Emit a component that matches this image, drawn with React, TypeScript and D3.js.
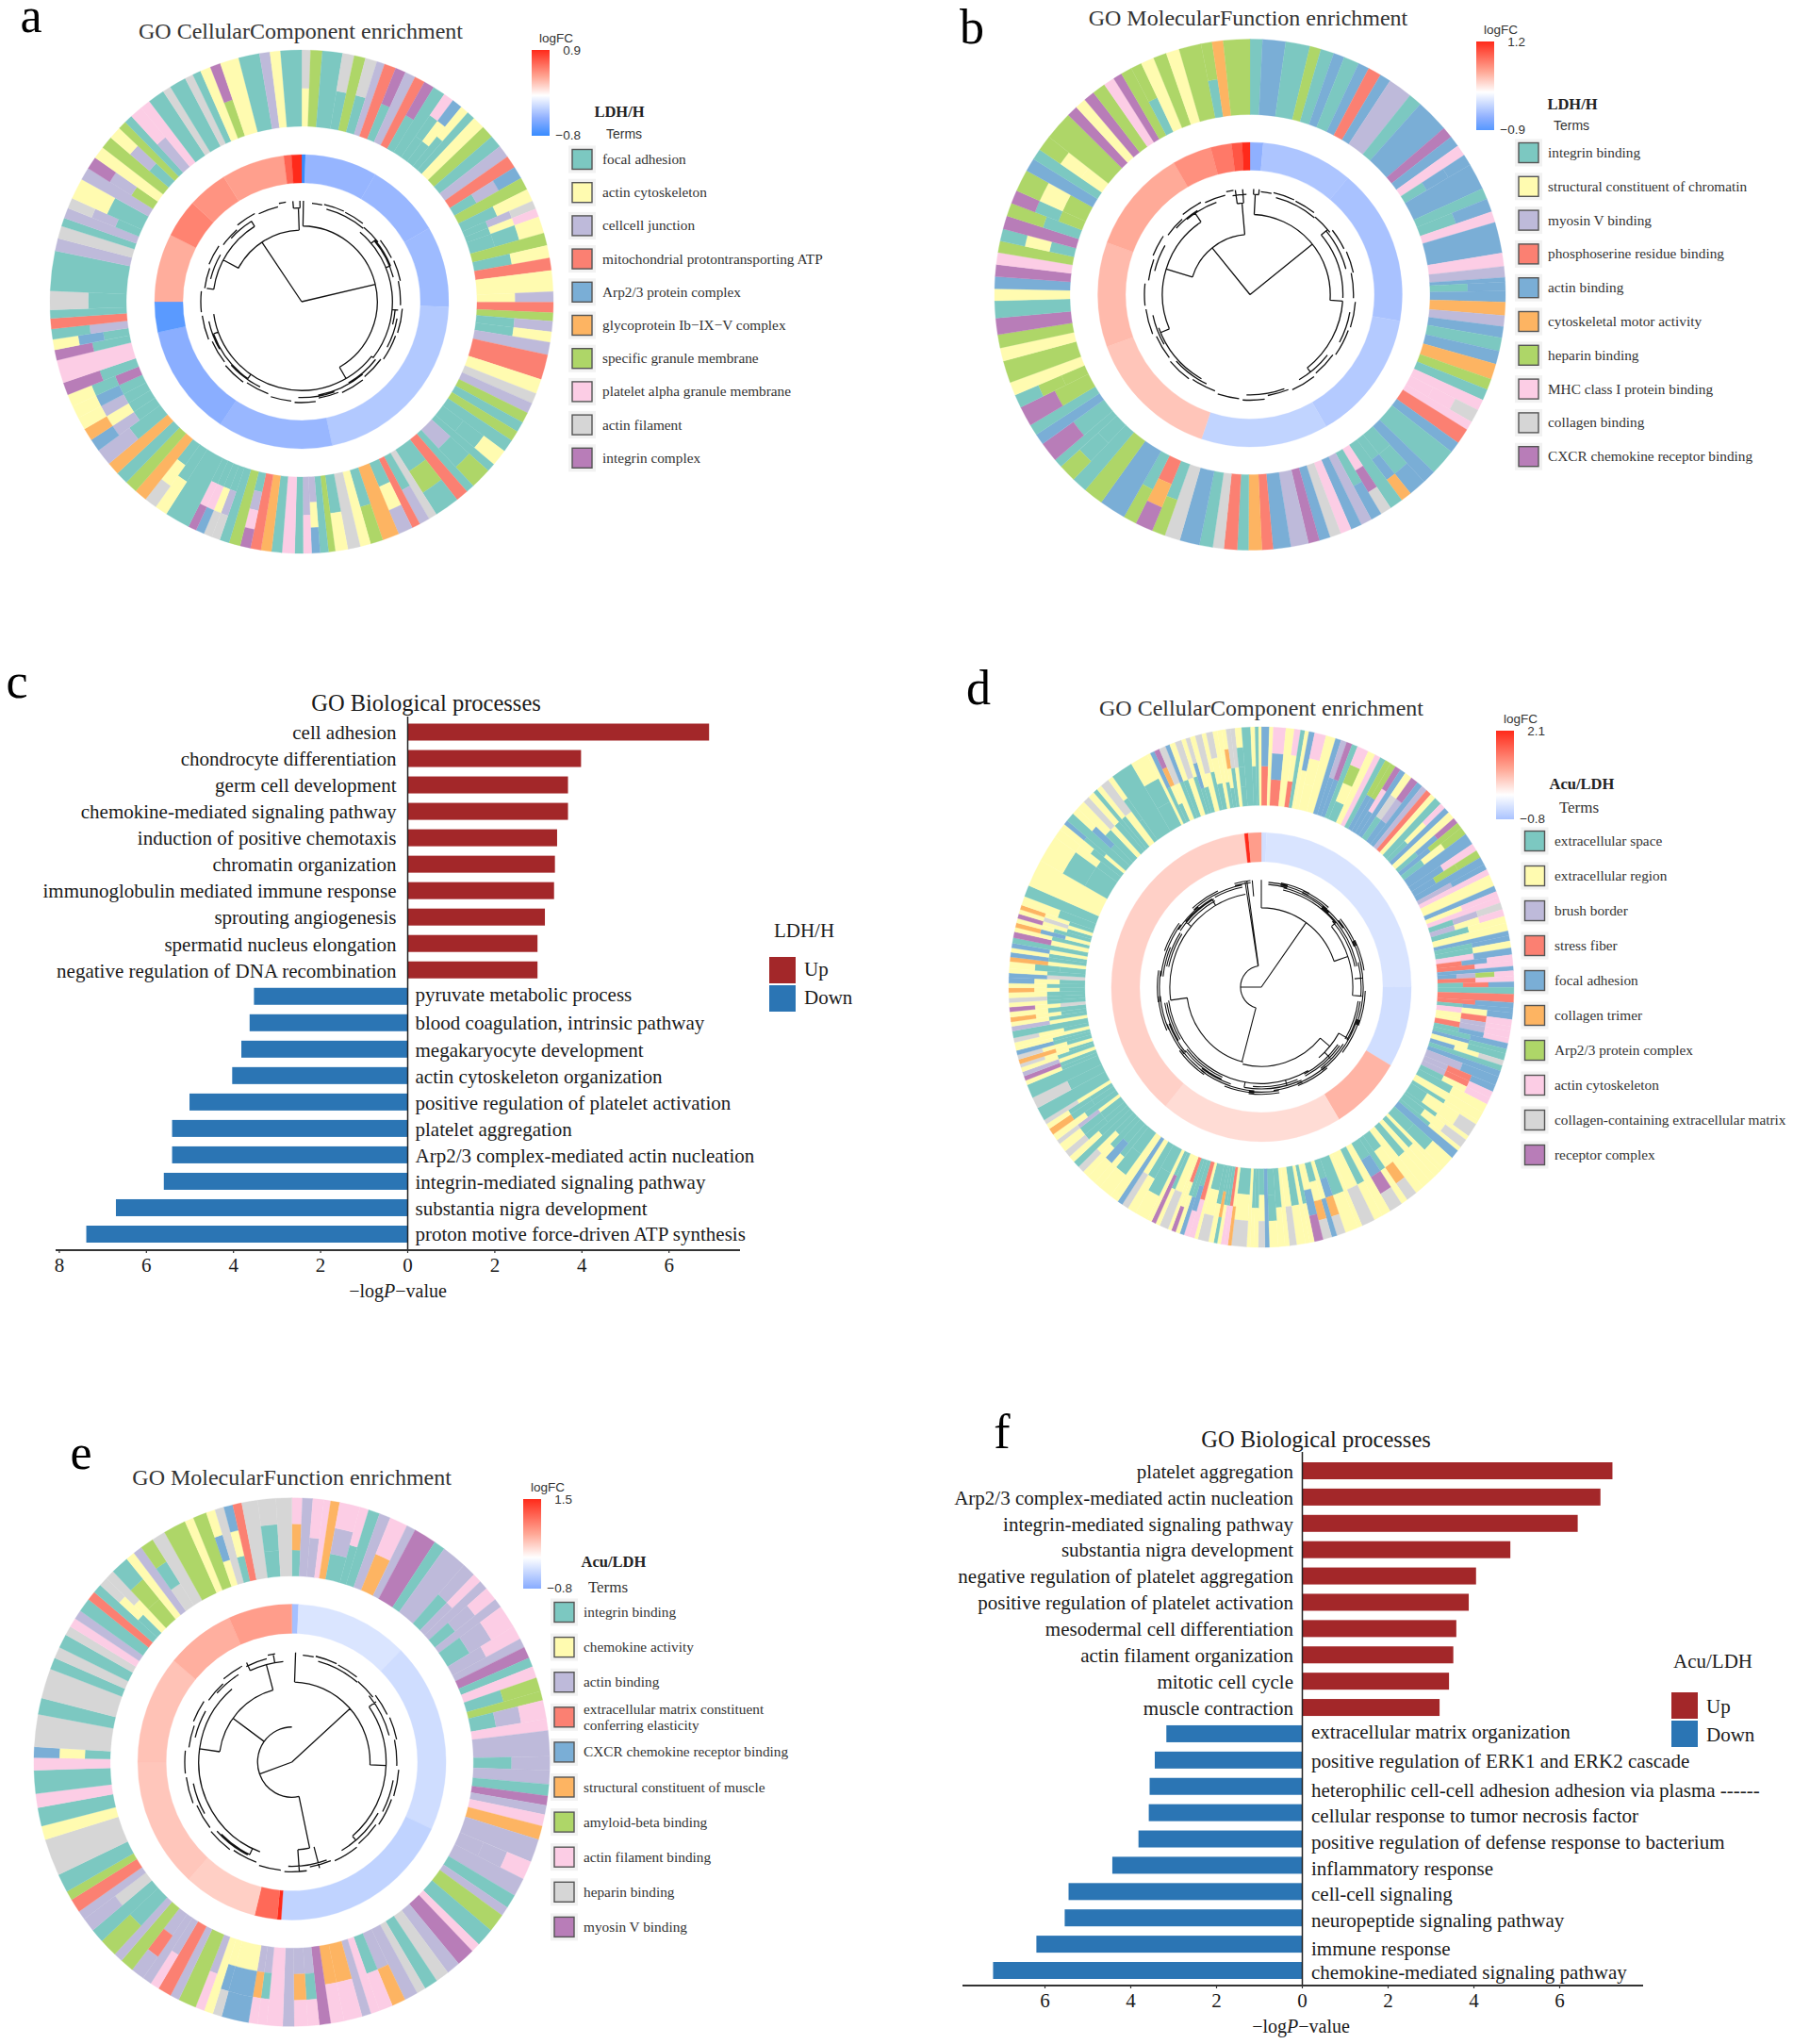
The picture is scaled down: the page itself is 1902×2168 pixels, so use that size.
import React from 'react';
import * as d3 from 'd3';

const SERIF = '"Liberation Serif", "Times New Roman", serif';
const SANS = '"Liberation Sans", Arial, sans-serif';

// term colours, a..j in the ring strings below
const termColors = ['#7cc8c1', '#fffbb0', '#bebada', '#fb8072', '#7aaed6', '#fdb462', '#aed668', '#fccde5', '#d6d6d6', '#b87db8'];

// outer rings: clockwise from 12 o'clock, "<terms inner to outer><width in degrees>"
const ringA = `bi2.1 g2.8 a4.8 ai2.8 g2.7 ai2.8 c1.9 d2.8 aj2.5 c2.5 d2.5 aj2.5 a3 aah2.5 abe2.5 ab2 a2 b3 g3 a3 c3 d3 ace3 g3 ab3 aci2 abh2 aab4 g3 ab3 d3 b5 bc2.5 d2.5 g2 ac2.5 ab2.5 c3 d6 b3.5 i2.5 c2.5 g2.5 a2.5 g2.5 a3 aab4 a2 cag5 a2 d3 aga6 i2 ac2.5 d2 abc3.5 f4 ag3 b2.5 i3 ab3 g1.6 a2 cbe2 ch2
a2 h3 a2.5 f2.5 d2.5 achj2.5 g2.7 a2.3 aci2 abi2 ahe2 ahj2 a6 ab3 abi3 f3 g3 a3 f3 ac4 ace3 abf3 acb3 aeb3 jab3 aj3 h5.5 aj2.5 aeb2.5 ca2.5 d2.5 a2 ai4.5 a9.5 c3 i3 a2 c2.5 aci2.5 ab5 c3 gcj3 b3 g3 acb3 g2 a2 ch3 h2.5 a4 i2 a4 i2 a2 b2.5 gj2.5 b4.5 a5 c2.5 b2.5 a5`;

const ringB = `a2.8 e5.2 a5.5 g2.5 a3 e2.5 a3.5 e2.5 d3 e2.5 c5.5 a3 e7.5 j2.5 e2.5 h2.5 aee2.5 e6 a2.5 ae3 h2.5 e7 h3 c2.5 e1 ae2 e2.5 f3 c2.5 e2.5 a3 e3 f3.5 g2.5 a2.5 h2.5 hhi3 h2 d3.5 e2.5 a6 e3 aae4 aef2.5 a3 hji2.5 ae2.5 c2.5 e2.5 h2.5 i2.5 e2.5 j2.5 c4 e4 d2.5 f3 a2.5 d3 i2.5 a3 e4.5
i3.5 ag3 dfj4 ag3 e6 g4.5 a3.5 aag4 a2 aj4.5 e2.5 a2.5 gj4.5 gga3 b3 g5 b3 g3 j3.7 a3.9 b2.7 e2.7 j2.7 h2.7 g2.6 aba2.8 j3 ag3 gaj3 gbg5 e3 a2.5 bbg3.5 g6.5 j2.5 b2.5 j2.5 g3 h2.5 j2 g2.5 ag2.5 b3 g3 b3 g5 ag2.5 f2.5 g6`;

const ringD = `de1.8 b.9 deh2.8 b1.9 dbh1.4 a1 b.9 be1.3 bbh2.6 b2.2 e1.3 ec1.3 ej1.3 a1.3 abgh2.6 b1.7 h1.3 a1.3 eg1.3 eg1.3 ehj1.3 e1.3 aib1.7 ecj1.7 e1.3 c1.3 d1.3 b1.3 a1.7 abh1.3 e1.3 b1.7 aej1.3 eg1.3 abg1.7 e2.6 eh1.7 egg1.7 e1.7 ce1.3 h1.3 b2.6 e1.3 bh1.3 h1.3 aci1.5 cbh1.5 ab1.5 b1.8 e1 ae1.2 ab1.5 he1.5 deh1.3 dh1.2 e1 ecgh1.2 dh1.2 ade1.2
a1.5 d1.8 de1.2 aee1 hbe1.5 bdh1.5 bch1 dch1.5 aeh1.2 ae1.3 ea1 ba1.5 ebi1.2 a1.2 e1.3 ce2 cde1.5 cdh1.5 abh1.5
ab2 b2 ab1 abbi3 ab1 abi2 ab1 e2 aab3 b1 ab1.5 b1.5 ab2 b2 abfi2.5 ab1.5 aeji3 b2 ab2 bi3 b1 ab3 aefi2 be1.2 abfi2 bej2 ab1 b1 ab2 bi1.6 b1 ab1.5 aab2 e1 abi1.5 ab1
ab.8 b.8 abi3.4 bf.8 dh.8 ah.8 ab.8 afa.8 ab1.2 abi2.4 b.8 dh1.2 aeh1.2 ae1 ab1 dbj1 b.8 bi2 ab1 ajj1 b1 aab3 ab2 bi1.5 e1.2
b2 aab3 ab1.5 aeb2 ab1.5 abi1.5 a1.5 ab1.5 aai1.5 aab2 bci1 ab1.5 aaf1.5 aab1.2 bi1 a3 ai2.5 a3 ab1 aj1 bc1 ab1 abi.8 bf1 abi1 ae1 ab.8
b1 abi1 a1.5 bc1 ab1 abf1 ab1.2 ibj1 ab1 ai1 ab1.2 abf1 ab1 abe1.2
ie1 ab1 aab1.5 bf1 ae1 ab1 be1 a1.2 bj1.3 ab1 bef1 ab1 abj1 bib1 abf1 ab2 a2.5 b6 aab6 abb2 ab1.5 bae1 a2 aeb1.5 ab2 bi1.5 ab1.5 a1 ab1.2 bi2 aab1.2 a5 aab4 b.8 ae1 abfj1.2 bi1.5 ae1 ab1.3 bi1.5 ab1 aei1 abb1.2 bi1.5 ab1 abi1.5 b1 abb1 abfb1 ai1 bi1 aaab1.5 a2 ab1 a.8 b.6`;

const ringE = `afh2.3 c2.3 ch2.4 h1.5 f2 ach4.5 ah2 a2.5 c2.5 fh4 c2 j5 a2.5 c5.5 ac3 ch2 c2 ach3 c2 ach5 ch3 c2 j2.5 a2 h2.5 ag3 g2 ach4 h2.5 c5.5 ac3 c3 a2.5 j2 c2 h2.5 f3 c5 cch4 c4 a3 c2 g4 a4 h2 j4 c3 i3 a3 i2 c3 cf3 ah3 h2 c2 fh4 fh3 j2.5 cah2.5 cfh3 c2.5 h3.5 cah2 cfh2 bee6 bei2 b2 ch2 g4 c2 d3 ch2 c2 cdc3 g3 c2 ag4 a3 ic3 c2 d3 g2 a4 i8 b3 a4 h3 a5 h2.7 abe2.3 i7 a3.5 i6.5 a2.5 i2.5 a3 i2 h2 c2 a3 d2 a2 abi2 bi2 gga4 b2 c2 iag3 i3 g5 b2 g3 beb2 i2 abe2 d2 i3.5 aai4 i3.5`;

// inner rings: same direction, one width per value (logFC)
const midWidthsA = [1.5, 28.5, 30, 32, 76, 45.5, 44.5, 12, 27, 15, 16, 25, 3, 4];
const midValuesA = [-0.8, -0.42, -0.41, -0.39, -0.31, -0.41, -0.47, -0.66, 0.34, 0.52, 0.45, 0.4, 0.65, 0.9];

const midWidthsB = [5, 35, 60, 50, 48.6, 51.4, 40, 40, 15, 8, 4, 3];
const midValuesB = [-0.6, -0.44, -0.46, -0.4, -0.33, 0.32, 0.38, 0.47, 0.62, 0.75, 0.95, 1.2];

const midWidthsD = [2, 88, 30.6, 28.4, 71, 134, 1.5, 5];
const midValuesD = [-0.42, -0.36, -0.44, 0.72, 0.34, 0.45, 2.1, 0.95];

const midWidthsE = [2.5, 42.5, 70, 69, 1.5, 8.5, 28, 48, 40, 26, 24];
const midValuesE = [-0.6, -0.25, -0.32, -0.42, 1.5, 1.05, 0.33, 0.39, 0.42, 0.55, 0.68];

// dendrogram branches: [from deg, to deg, radius fraction] and [deg, from radius, to radius]
const arcsA = [[1, 150, 0.75], [128, 262, 0.88], [40, 128, 0.9], [298, 358, 0.71], [278, 328, 0.88], [355, 359, 0.93], [50, 68, 0.95], [95, 104, 0.93], [140, 170, 0.94], [215, 250, 0.93]];
const stemsA = [[326.3, 0, 0.71], [76.7, 0, 0.75], [1, 0.75, 1], [150, 0.75, 0.88], [128, 0.88, 0.9], [358, 0.71, 0.93], [355, 0.93, 1], [359, 0.93, 1], [298, 0.71, 0.88], [68, 0.9, 0.95], [50, 0.9, 0.95], [95, 0.9, 0.96], [215, 0.88, 0.93], [250, 0.88, 0.93], [328, 0.88, 0.94], [278, 0.88, 0.95]];

const arcsB = [[3, 94, 0.76], [50, 92, 0.88], [94, 142, 0.88], [287, 355, 0.57], [247, 326, 0.83], [352, 356, 0.87], [210, 250, 0.92], [320, 340, 0.93], [130, 145, 0.93], [2, 5, 0.95], [358, 350, 0.95]];
const stemsB = [[321, 0, 0.57], [51, 0, 0.76], [3, 0.76, 0.95], [2, 0.95, 1], [5, 0.95, 1], [94, 0.76, 0.88], [355, 0.57, 0.87], [352, 0.87, 1], [356, 0.87, 1], [287, 0.57, 0.83], [247, 0.83, 0.92], [326, 0.83, 0.93], [50, 0.88, 0.96], [142, 0.88, 0.93]];

const arcsD = [[0, 71, 0.74], [50, 95, 0.88], [130, 194, 0.74], [194, 262, 0.72], [262, 350, 0.88], [150, 262, 0.9], [270, 352, 0.2], [195, 270, 0.2], [310, 330, 0.95], [165, 190, 0.95], [32, 50, 0.93], [120, 140, 0.86]];
const stemsD = [[35.6, 0, 0.74], [270, 0, 0.2], [352, 0.2, 1], [351, 0.2, 1], [355, 0.85, 1], [0, 0.74, 1], [195, 0.2, 0.72], [262, 0.72, 0.88], [71, 0.74, 0.88], [130, 0.74, 0.86], [120, 0.86, 0.96], [135, 0.86, 0.94], [50, 0.88, 0.93], [310, 0.88, 0.95], [330, 0.88, 0.95], [165, 0.9, 0.95], [190, 0.9, 0.95], [95, 0.88, 0.97], [85, 0.9, 0.98]];

const arcsE = [[2, 92, 0.73], [55, 92, 0.88], [92, 140, 0.88], [278, 345, 0.68], [200, 278, 0.87], [278, 320, 0.87], [250, 360, 0.32], [168, 250, 0.32], [335, 355, 0.92], [176, 168, 0.8], [120, 145, 0.93], [205, 225, 0.93]];
const stemsE = [[250, 0, 0.32], [48, 0, 0.73], [2, 0.73, 1], [306, 0.32, 0.68], [168, 0.32, 0.8], [176, 0.8, 1], [165, 0.8, 1], [92, 0.73, 0.88], [278, 0.68, 0.87], [345, 0.68, 0.92], [55, 0.88, 0.96], [140, 0.88, 0.93], [335, 0.92, 1], [350, 0.92, 1], [205, 0.87, 0.93]];

// broken outer fringe of leaves, shared shape
const fringeArcs = [[6, 12, 0.98], [13, 25, 0.99], [15, 40, 0.95], [26, 38, 0.985], [40, 52, 0.96], [52, 64, 0.99], [50, 75, 0.94], [66, 78, 1], [78, 92, 0.98], [94, 108, 1], [100, 118, 0.96], [110, 125, 0.99], [126, 140, 0.97], [128, 150, 0.93], [142, 156, 0.985], [158, 170, 0.97], [172, 184, 1], [160, 182, 0.95], [186, 198, 0.99], [200, 214, 0.97], [206, 228, 0.94], [216, 230, 0.985], [232, 246, 0.97], [248, 262, 0.995], [240, 258, 0.94], [264, 276, 1], [278, 290, 0.97], [284, 300, 0.93], [292, 304, 0.99], [306, 318, 0.96], [320, 332, 0.99], [312, 328, 0.94], [334, 346, 0.97], [347, 351, 1]];

const termsA = ['focal adhesion', 'actin cytoskeleton', 'cellcell junction', 'mitochondrial protontransporting ATP', 'Arp2/3 protein complex', 'glycoprotein Ib−IX−V complex', 'specific granule membrane', 'platelet alpha granule membrane', 'actin filament', 'integrin complex'];
const termsB = ['integrin binding', 'structural constituent of chromatin', 'myosin V binding', 'phosphoserine residue binding', 'actin binding', 'cytoskeletal motor activity', 'heparin binding', 'MHC class I protein binding', 'collagen binding', 'CXCR chemokine receptor binding'];
const termsD = ['extracellular space', 'extracellular region', 'brush border', 'stress fiber', 'focal adhesion', 'collagen trimer', 'Arp2/3 protein complex', 'actin cytoskeleton', 'collagen-containing extracellular matrix', 'receptor complex'];
const termsE = ['integrin binding', 'chemokine activity', 'actin binding', 'extracellular matrix constituent|conferring elasticity', 'CXCR chemokine receptor binding', 'structural constituent of muscle', 'amyloid-beta binding', 'actin filament binding', 'heparin binding', 'myosin V binding'];

const upTermsC = ['cell adhesion', 'chondrocyte differentiation', 'germ cell development', 'chemokine-mediated signaling pathway', 'induction of positive chemotaxis', 'chromatin organization', 'immunoglobulin mediated immune response', 'sprouting angiogenesis', 'spermatid nucleus elongation', 'negative regulation of DNA recombination'];
const upValuesC = [6.92, 3.98, 3.68, 3.68, 3.43, 3.38, 3.36, 3.15, 2.98, 2.98];
const downTermsC = ['pyruvate metabolic process', 'blood coagulation, intrinsic pathway', 'megakaryocyte development', 'actin cytoskeleton organization', 'positive regulation of platelet activation', 'platelet aggregation', 'Arp2/3 complex-mediated actin nucleation', 'integrin-mediated signaling pathway', 'substantia nigra development', 'proton motive force-driven ATP synthesis'];
const downValuesC = [3.53, 3.63, 3.82, 4.03, 5.01, 5.41, 5.41, 5.6, 6.7, 7.38];

const upTermsF = ['platelet aggregation', 'Arp2/3 complex-mediated actin nucleation', 'integrin-mediated signaling pathway', 'substantia nigra development', 'negative regulation of platelet aggregation', 'positive regulation of platelet activation', 'mesodermal cell differentiation', 'actin filament organization', 'mitotic cell cycle', 'muscle contraction'];
const upValuesF = [7.23, 6.95, 6.42, 4.85, 4.05, 3.88, 3.59, 3.52, 3.42, 3.2];
const downTermsF = ['extracellular matrix organization', 'positive regulation of ERK1 and ERK2 cascade', 'heterophilic cell-cell adhesion adhesion via plasma ------', 'cellular response to tumor necrosis factor', 'positive regulation of defense response to bacterium', 'inflammatory response', 'cell-cell signaling', 'neuropeptide signaling pathway', 'immune response', 'chemokine-mediated signaling pathway'];
const downValuesF = [3.17, 3.44, 3.56, 3.58, 3.82, 4.43, 5.45, 5.54, 6.2, 7.21];

const ticksC = [-8, -6, -4, -2, 0, 2, 4, 6];
const ticksF = [-6, -4, -2, 0, 2, 4, 6];

const panelLetters = [['a', 33, 34], ['b', 1031, 46], ['c', 18, 740], ['d', 1038, 747], ['e', 86, 1558], ['f', 1063, 1536]];

const arcGen = d3.arc<any>();
const deg = (d: number) => (d * Math.PI) / 180;

// reference's ramp: periwinkle blues, white, salmon reds
const fcScale = (M: number) =>
  d3.scaleLinear<string>()
    .domain([-M, -0.5 * M, 0, 0.4 * M, M])
    .range(['#1e80ff', '#8fb0ff', '#ffffff', '#ffa896', '#ff2a1a']);

function parseRing(str: string) {
  const cells = str.trim().split(/\s+/).map(tok => {
    const m = tok.match(/^([a-j]+)([\d.]+)$/)!;
    return { terms: m[1].split('').map(c => c.charCodeAt(0) - 97), width: +m[2] };
  });
  const total = d3.sum(cells, c => c.width);
  const angle = d3.scaleLinear().domain([0, total]).range([0, 2 * Math.PI]);
  let acc = 0;
  return cells.map(c => {
    const out = { terms: c.terms, a0: angle(acc), a1: angle(acc + c.width) };
    acc += c.width;
    return out;
  });
}

function branchPath(arcs: number[][], stems: number[][], fringe: number[][], R: number) {
  const p = d3.path();
  arcs.concat(fringe).forEach(([a, b, r]) => {
    const rr = r * R;
    const [from, to] = [deg(Math.min(a, b)) - Math.PI / 2, deg(Math.max(a, b)) - Math.PI / 2];
    p.moveTo(rr * Math.cos(from), rr * Math.sin(from));
    p.arc(0, 0, rr, from, to);
  });
  stems.forEach(([a, r0, r1]) => {
    const [x0, y0] = d3.pointRadial(deg(a), r0 * R);
    const [x1, y1] = d3.pointRadial(deg(a), r1 * R);
    p.moveTo(x0, y0);
    p.lineTo(x1, y1);
  });
  return p.toString();
}

function Ring({ cfg }: { cfg: any }) {
  const cells = parseRing(cfg.ring);
  const midTotal = d3.sum(cfg.midWidths as number[]);
  const midAngle = d3.scaleLinear().domain([0, midTotal]).range([0, 2 * Math.PI]);
  const color = fcScale(Math.max(cfg.max, -cfg.min));
  let acc = 0;
  // panel d has many more leaves, so its fringe is drawn doubled and longer
  const fringe = cfg.dense
    ? [0, -0.02].flatMap(d => fringeArcs.map(([a, b, r]) => [a - 2, b + 3, Math.min(1, r + d)]))
    : fringeArcs;
  return (
    <g transform={`translate(${cfg.cx},${cfg.cy}) scale(${cfg.sx},${cfg.sy})`}>
      {cells.flatMap((c, i) => {
        const band = d3.scaleLinear().domain([0, c.terms.length]).range([cfg.rOuterIn, cfg.rOuter]);
        return c.terms.map((t, j) => {
          const col = termColors[t];
          return (
            <path key={`${i}-${j}`} fill={col} stroke={col} strokeWidth={0.3}
              d={arcGen({ innerRadius: band(j), outerRadius: band(j + 1), startAngle: c.a0, endAngle: c.a1 }) as string} />
          );
        });
      })}
      {(cfg.midValues as number[]).map((v, i) => {
        const a0 = midAngle(acc);
        acc += cfg.midWidths[i];
        const col = color(v);
        return (
          <path key={`m${i}`} fill={col} stroke={col} strokeWidth={0.3}
            d={arcGen({ innerRadius: cfg.rMidIn, outerRadius: cfg.rMid, startAngle: a0, endAngle: midAngle(acc) }) as string} />
        );
      })}
      <path d={branchPath(cfg.arcs, cfg.stems, fringe, cfg.rTree)} fill="none" stroke="#111" strokeWidth={cfg.dense ? 1.1 : 1.3} />
    </g>
  );
}

function RingLegend({ cfg }: { cfg: any }) {
  const l = cfg.legend;
  const M = Math.max(cfg.max, -cfg.min);
  const color = fcScale(M);
  const gradId = `grad-${cfg.id}`;
  const stops = [cfg.max, 0.4 * M, 0, -0.5 * M, cfg.min].filter(s => s <= cfg.max && s >= cfg.min);
  const off = d3.scaleLinear().domain([cfg.max, cfg.min]).range([0, 100]);
  return (
    <g>
      <defs>
        <linearGradient id={gradId} x1="0" y1="0" x2="0" y2="1">
          {stops.map(s => <stop key={s} offset={`${off(s)}%`} stopColor={color(s)} />)}
        </linearGradient>
      </defs>
      <rect x={l.barX} y={l.barY0} width={19} height={l.barY1 - l.barY0} fill={`url(#${gradId})`} />
      <text x={l.barX + 26} y={l.barY0 - 12} textAnchor="middle" fontFamily={SANS} fontSize={13.5} fill="#333" dominantBaseline="middle">logFC</text>
      <text x={l.barX + 52} y={l.barY0 + 1} textAnchor="end" fontFamily={SANS} fontSize={13.5} fill="#333" dominantBaseline="middle">{cfg.max}</text>
      <text x={l.barX + 52} y={l.barY1} textAnchor="end" fontFamily={SANS} fontSize={13.5} fill="#333" dominantBaseline="middle">{'−' + -cfg.min}</text>
      <text x={l.groupX} y={l.groupY + 1} textAnchor="middle" fontFamily={SERIF} fontWeight="bold" fontSize={16.5} fill="#222" dominantBaseline="middle">{cfg.group}</text>
      <text x={l.termsX} y={l.termsY + 1} textAnchor="middle" fontFamily={l.termsFont} fontSize={l.termsSize} fill="#333" dominantBaseline="middle">Terms</text>
      {(cfg.terms as string[]).map((t, i) => {
        const y = l.y0 + i * l.step;
        const lines = t.split('|');
        return (
          <g key={t}>
            <rect x={l.swX - 14.5} y={y - 14.5} width={29} height={29} fill="#f2f2f2" />
            <rect x={l.swX - 10.5} y={y - 10.5} width={21} height={21} fill={termColors[i]} stroke="#555" strokeWidth={1.4} />
            {lines.map((s, k) => (
              <text key={s} x={l.textX} y={y + 1.5 + (k - (lines.length - 1) / 2) * 17} fontFamily={SERIF} fontSize={l.fs} fill="#333" dominantBaseline="middle">{s}</text>
            ))}
          </g>
        );
      })}
    </g>
  );
}

function Bars({ cfg }: { cfg: any }) {
  const x = d3.scaleLinear().domain([0, 1]).range([cfg.x0, cfg.x0 + cfg.unit]);
  const all = [...cfg.upTerms, ...cfg.downTerms];
  const y = d3.scalePoint<string>().domain(all).range([cfg.y0, cfg.y1]);
  return (
    <g fontFamily={SERIF} fill="#1a1a1a">
      <text x={cfg.titleX} y={cfg.titleY + 3} textAnchor="middle" fontSize={24.5} dominantBaseline="middle">GO Biological processes</text>
      {(cfg.upTerms as string[]).map((t, i) => (
        <g key={t}>
          <rect x={x(0)} y={y(t)! - 9} width={x(cfg.upValues[i]) - x(0)} height={18} fill="#a32729" />
          <text x={x(0) - cfg.upGap} y={y(t)! + 3} textAnchor="end" fontSize={cfg.fs} dominantBaseline="middle">{t}</text>
        </g>
      ))}
      {(cfg.downTerms as string[]).map((t, i) => (
        <g key={t}>
          <rect x={x(-cfg.downValues[i])} y={y(t)! - 9} width={x(0) - x(-cfg.downValues[i])} height={18} fill="#2b75b4" />
          <text x={x(0) + cfg.downGap} y={y(t)! + cfg.downNudges[i]} fontSize={cfg.fs} dominantBaseline="middle">{t}</text>
        </g>
      ))}
      <line x1={x(0)} x2={x(0)} y1={cfg.zeroTop} y2={cfg.axisY} stroke="#222" strokeWidth={1.5} />
      <line x1={cfg.axisX0} x2={cfg.axisX1} y1={cfg.axisY} y2={cfg.axisY} stroke="#333" strokeWidth={2} />
      {(cfg.ticks as number[]).map(t => (
        <g key={t}>
          <line x1={x(t)} x2={x(t)} y1={cfg.axisY} y2={cfg.axisY + 3} stroke="#333" strokeWidth={1.2} />
          <text x={x(t)} y={cfg.axisY + 18} textAnchor="middle" fontSize={21} dominantBaseline="middle">{Math.abs(t)}</text>
        </g>
      ))}
      <text x={cfg.labelX} y={cfg.axisY + 45} textAnchor="middle" fontSize={20} dominantBaseline="middle">
        −log<tspan fontStyle="italic">P</tspan>−value
      </text>
      <text x={cfg.legTitleX} y={cfg.legTitleY} textAnchor="middle" fontSize={21} dominantBaseline="middle">{cfg.group}</text>
      <rect x={cfg.legX} y={cfg.legY} width={28} height={28} fill="#a32729" />
      <rect x={cfg.legX} y={cfg.legY + 30} width={28} height={28} fill="#2b75b4" />
      <text x={cfg.legX + 37} y={cfg.legY + cfg.legNudge + 14} fontSize={21} dominantBaseline="middle">Up</text>
      <text x={cfg.legX + 37} y={cfg.legY + cfg.legNudge + 44} fontSize={21} dominantBaseline="middle">Down</text>
    </g>
  );
}

const ringPanels = [
  {
    id: 'a', title: 'GO CellularComponent enrichment', titleX: 319, titleY: 32, ring: ringA, midWidths: midWidthsA, midValues: midValuesA,
    arcs: arcsA, stems: stemsA, cx: 320, cy: 320, sx: 1, sy: 1, rOuter: 267, rOuterIn: 186, rMid: 156, rMidIn: 126, rTree: 107, min: -0.8, max: 0.9,
    group: 'LDH/H', terms: termsA,
    legend: { barX: 564, barY0: 53, barY1: 144, groupX: 657, groupY: 119, termsX: 662, termsY: 142, termsFont: SANS, termsSize: 14, swX: 617.5, y0: 169, step: 35.2, textX: 639, fs: 15.3 },
  },
  {
    id: 'b', title: 'GO MolecularFunction enrichment', titleX: 1324, titleY: 18, ring: ringB, midWidths: midWidthsB, midValues: midValuesB,
    arcs: arcsB, stems: stemsB, cx: 1326, cy: 312.5, sx: 1, sy: 1, rOuter: 271, rOuterIn: 191, rMid: 161.5, rMidIn: 132, rTree: 112, min: -0.9, max: 1.2,
    group: 'LDH/H', terms: termsB,
    legend: { barX: 1566, barY0: 44, barY1: 138, groupX: 1668, groupY: 111, termsX: 1667, termsY: 133, termsFont: SANS, termsSize: 14, swX: 1621.5, y0: 162, step: 35.8, textX: 1642, fs: 15.3 },
  },
  {
    id: 'd', title: 'GO CellularComponent enrichment', titleX: 1338, titleY: 750, ring: ringD, midWidths: midWidthsD, midValues: midValuesD,
    arcs: arcsD, stems: stemsD, cx: 1338, cy: 1047, sx: 0.985, sy: 1.015, rOuter: 272, rOuterIn: 190, rMid: 161.5, rMidIn: 131, rTree: 112, min: -0.8, max: 2.1, dense: true,
    group: 'Acu/LDH', terms: termsD,
    legend: { barX: 1587, barY0: 775, barY1: 869, groupX: 1678, groupY: 832, termsX: 1675, termsY: 857, termsFont: SERIF, termsSize: 17, swX: 1628, y0: 892, step: 37, textX: 1649, fs: 15.3 },
  },
  {
    id: 'e', title: 'GO MolecularFunction enrichment', titleX: 309.6, titleY: 1566, ring: ringE, midWidths: midWidthsE, midValues: midValuesE,
    arcs: arcsE, stems: stemsE, cx: 309.6, cy: 1869, sx: 0.988, sy: 1.012, rOuter: 277, rOuterIn: 195, rMid: 165.5, rMidIn: 135, rTree: 115, min: -0.8, max: 1.5,
    group: 'Acu/LDH', terms: termsE,
    legend: { barX: 555, barY0: 1590, barY1: 1685, groupX: 651, groupY: 1657, termsX: 645, termsY: 1684, termsFont: SERIF, termsSize: 17, swX: 598.5, y0: 1710, step: 37.1, textX: 619, fs: 15.3 },
  },
];

const barPanels = [
  {
    id: 'c', upTerms: upTermsC, upValues: upValuesC, downTerms: downTermsC, downValues: downValuesC, x0: 432.5, unit: 46.2, y0: 776.5, y1: 1309,
    zeroTop: 760, axisY: 1326, axisX0: 59, axisX1: 785, ticks: ticksC, titleX: 452, titleY: 745, labelX: 422, group: 'LDH/H', legX: 816, legY: 1015, fs: 21,
    upGap: 12, downGap: 8, downNudges: [0, 2, 3, 3, 3, 3, 3, 3, 3, 2], legTitleX: 853, legTitleY: 989, legNudge: 1,
  },
  {
    id: 'f', upTerms: upTermsF, upValues: upValuesF, downTerms: downTermsF, downValues: downValuesF, x0: 1381.5, unit: 45.5, y0: 1560, y1: 2090,
    zeroTop: 1540, axisY: 2106, axisX0: 1021, axisX1: 1743, ticks: ticksF, titleX: 1396, titleY: 1526, labelX: 1380, group: 'Acu/LDH', legX: 1773, legY: 1795, fs: 21,
    upGap: 9.5, downGap: 9.5, downNudges: [0, 3, 6, 6, 6, 6, 5, 5, 7, 4], legTitleX: 1817, legTitleY: 1764, legNudge: 3,
  },
];

export default function App() {
  return (
    <svg width={1902} height={2168} style={{ position: 'absolute', left: 0, top: 0, background: '#fff' }}>
      {panelLetters.map(([t, x, y]) => (
        <text key={t as string} x={x as number} y={y as number} textAnchor="middle" fontFamily={SERIF} fontSize={52} fill="#000">{t}</text>
      ))}
      {ringPanels.map(cfg => (
        <g key={cfg.id}>
          <text x={cfg.titleX} y={cfg.titleY + 3} textAnchor="middle" fontFamily={SERIF} fontSize={24} fill="#333" dominantBaseline="middle">{cfg.title}</text>
          <Ring cfg={cfg} />
          <RingLegend cfg={cfg} />
        </g>
      ))}
      {barPanels.map(cfg => <Bars key={cfg.id} cfg={cfg} />)}
    </svg>
  );
}
